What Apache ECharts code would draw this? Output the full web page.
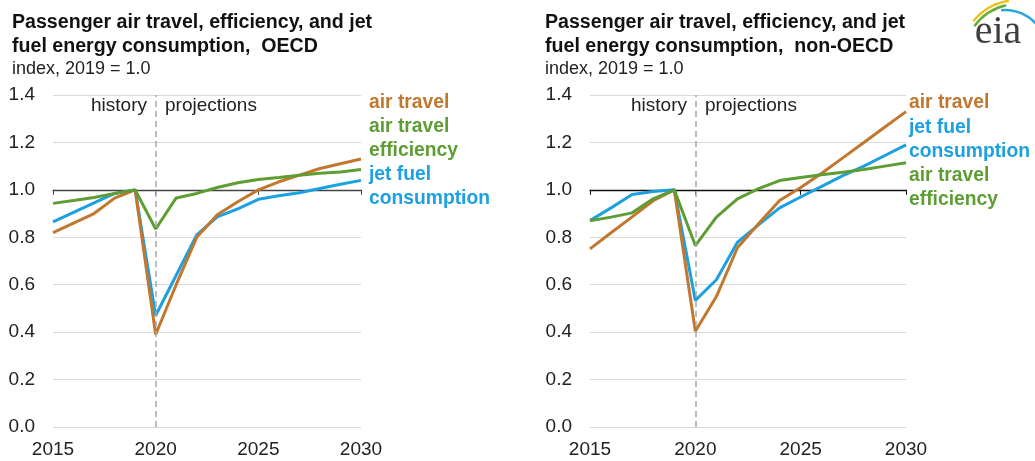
<!DOCTYPE html>
<html>
<head>
<meta charset="utf-8">
<script src="https://cdn.jsdelivr.net/npm/echarts@6/dist/echarts.min.js"></script>
<style>
  html, body { margin: 0; padding: 0; background: #fff; }
  #chart { width: 1035px; height: 461px; }
</style>
</head>
<body>
<div id="chart"></div>
<script>
/* ===== Data ===== */
const years = ['2015', '2016', '2017', '2018', '2019', '2020', '2021', '2022',
               '2023', '2024', '2025', '2026', '2027', '2028', '2029', '2030'];
const yTicks = [0, 0.2, 0.4, 0.6, 0.8, 1.0, 1.2, 1.4];

// OECD
const oecdTravel = [0.82, 0.86, 0.90, 0.965, 1.0, 0.39, 0.60, 0.80, 0.895, 0.95, 1.0, 1.034, 1.062, 1.09, 1.11, 1.13];
const oecdFuel   = [0.865, 0.905, 0.945, 0.985, 1.0, 0.47, 0.64, 0.81, 0.886, 0.92, 0.96, 0.975, 0.988, 1.006, 1.024, 1.04];
const oecdEff    = [0.943, 0.955, 0.968, 0.985, 1.0, 0.835, 0.966, 0.985, 1.01, 1.03, 1.044, 1.052, 1.062, 1.07, 1.075, 1.086];

// non-OECD
const nonTravel = [0.751, 0.819, 0.886, 0.954, 1.0, 0.404, 0.55, 0.756, 0.857, 0.955, 1.01, 1.07, 1.135, 1.20, 1.265, 1.33];
const nonFuel   = [0.871, 0.924, 0.98, 0.993, 1.0, 0.534, 0.621, 0.779, 0.852, 0.924, 0.97, 1.015, 1.06, 1.10, 1.145, 1.19];
const nonEff    = [0.87, 0.885, 0.903, 0.962, 1.0, 0.765, 0.885, 0.962, 1.005, 1.039, 1.052, 1.064, 1.074, 1.086, 1.10, 1.114];

const titles = [
    'Passenger air travel, efficiency, and jet\nfuel energy consumption,  OECD',
    'Passenger air travel, efficiency, and jet\nfuel energy consumption,  non-OECD'
];
const subtitle = 'index, 2019 = 1.0';

/* ===== Style ===== */
const FONT = '"Liberation Sans", Arial, sans-serif';
const ORANGE = '#c2772f';
const BLUE = '#1ca0e0';
const GREEN = '#5e9d33';

const grids = [
    { left: 53, top: 95, width: 308, height: 332 },
    { left: 590, top: 95, width: 316, height: 332 }
];
const yMax = yTicks[yTicks.length - 1];

const el = document.getElementById('chart');
const chart = echarts.init(el);

function xAxes(gi) {
    const g = grids[gi];
    return [
        {
            gridIndex: gi,
            type: 'category',
            data: years,
            boundaryGap: false,
            axisLine: { show: false },
            axisTick: { show: false },
            axisLabel: {
                interval: (i) => i % 5 === 0,
                color: '#222',
                fontSize: 19,
                fontFamily: FONT,
                margin: 13
            },
            splitLine: { show: false }
        },
        {
            // axis line drawn at the 1.0 level
            gridIndex: gi,
            type: 'category',
            data: years,
            boundaryGap: false,
            position: 'bottom',
            offset: -g.height * (1.0 / yMax),
            axisLine: { lineStyle: { color: gi === 0 ? '#444' : '#111', width: 1.3 } },
            axisTick: { interval: (i) => i % 5 === 0, length: 5, lineStyle: { color: gi === 0 ? '#444' : '#111' } },
            axisLabel: { show: false },
            splitLine: { show: false }
        }
    ];
}

function yAxis(gi) {
    return {
        gridIndex: gi,
        type: 'value',
        min: 0,
        max: yMax,
        interval: 0.2,
        axisLine: { show: false },
        axisTick: { show: false },
        axisLabel: {
            color: '#222',
            fontSize: 19,
            fontFamily: FONT,
            margin: 18,
            formatter: (v) => v.toFixed(1)
        },
        splitLine: { lineStyle: { color: '#d9d9d9', width: 1 } }
    };
}

function lineSeries(name, data, color, gi, extra) {
    return Object.assign({
        name: name,
        type: 'line',
        xAxisIndex: gi * 2,
        yAxisIndex: gi,
        data: data,
        symbol: 'none',
        lineStyle: { color: color, width: 3 },
        itemStyle: { color: color },
        animation: false
    }, extra || {});
}

function divider() {
    return {
        markLine: {
            silent: true,
            symbol: 'none',
            label: { show: false },
            lineStyle: { color: '#a6a6a6', type: [6, 4], width: 1.5 },
            data: [{ xAxis: '2020' }]
        }
    };
}

function label(text, x, y, color, size, weight, align) {
    return {
        type: 'text',
        x: x,
        y: y,
        style: {
            text: text,
            fill: color,
            font: (weight || 'normal') + ' ' + size + 'px ' + FONT,
            textAlign: align || 'left',
            textVerticalAlign: 'middle'
        }
    };
}

function logoArc(cx, cy, r, a0, a1, color) {
    return {
        type: 'arc',
        shape: { cx: cx, cy: cy, r: r, startAngle: Math.PI * a0, endAngle: Math.PI * a1 },
        style: { stroke: color, lineWidth: 2.5, fill: null }
    };
}

const option = {
    animation: false,
    title: titles.map((t, i) => ({
        text: t,
        subtext: subtitle,
        left: i === 0 ? 12 : 545,
        top: 10,
        padding: 0,
        itemGap: -2,
        textStyle: { fontSize: 19.6, fontWeight: 'bold', color: '#111', fontFamily: FONT, lineHeight: 24.5 },
        subtextStyle: { fontSize: 18, color: '#222', fontFamily: FONT, lineHeight: 24 }
    })),
    grid: grids,
    xAxis: [...xAxes(0), ...xAxes(1)],
    yAxis: [yAxis(0), yAxis(1)],
    series: [
        lineSeries('jet fuel consumption', oecdFuel, BLUE, 0, divider()),
        lineSeries('air travel', oecdTravel, ORANGE, 0),
        lineSeries('air travel efficiency', oecdEff, GREEN, 0),
        lineSeries('jet fuel consumption', nonFuel, BLUE, 1, divider()),
        lineSeries('air travel', nonTravel, ORANGE, 1),
        lineSeries('air travel efficiency', nonEff, GREEN, 1)
    ],
    graphic: [
        // history / projections
        label('history', 147, 106, '#222', 19, 'normal', 'right'),
        label('projections', 165, 106, '#222', 19, 'normal'),
        label('history', 687, 106, '#222', 19, 'normal', 'right'),
        label('projections', 705, 106, '#222', 19, 'normal'),

        // OECD labels
        label('air travel', 369, 103, ORANGE, 19.3, 'bold'),
        label('air travel', 369, 127, GREEN, 19.3, 'bold'),
        label('efficiency', 369, 151, GREEN, 19.3, 'bold'),
        label('jet fuel', 369, 175, BLUE, 19.3, 'bold'),
        label('consumption', 369, 199, BLUE, 19.3, 'bold'),

        // non-OECD labels
        label('air travel', 909, 103, ORANGE, 19.3, 'bold'),
        label('jet fuel', 909, 128, BLUE, 19.3, 'bold'),
        label('consumption', 909, 152, BLUE, 19.3, 'bold'),
        label('air travel', 909, 176, GREEN, 19.3, 'bold'),
        label('efficiency', 909, 200, GREEN, 19.3, 'bold'),

        // eia logo
        logoArc(1018, 58, 58, 1.22, 1.45, '#e8c31c'),
        logoArc(1018, 58, 54, 1.2, 1.43, '#6aac3a'),
        logoArc(1005, 52, 42, 1.47, 1.8, '#29a6dd'),
        {
            type: 'text',
            x: 998,
            y: 32,
            style: {
                text: 'eia',
                fill: '#3f3f3f',
                font: 'normal 40px "Liberation Serif", "DejaVu Serif", serif',
                textAlign: 'center',
                textVerticalAlign: 'middle'
            }
        }
    ]
};

chart.setOption(option);
window.addEventListener('resize', () => chart.resize());
</script>
</body>
</html>
